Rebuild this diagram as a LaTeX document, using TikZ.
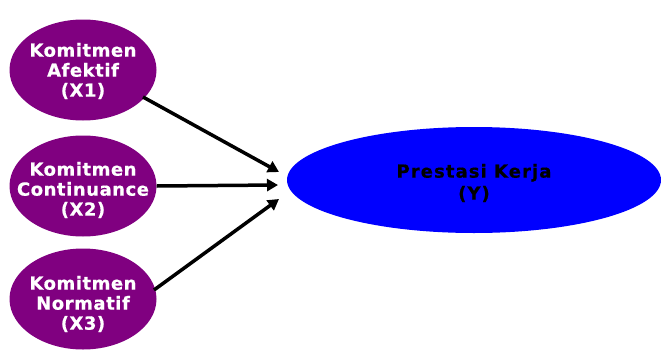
\documentclass[tikz,border=0pt]{standalone}
\usepackage{fontspec}
\setmainfont{DejaVu Sans}
\newfontfamily\xfont[LetterSpace=3,FakeBold=0.6]{DejaVu Sans Bold}
\newfontfamily\yfont[LetterSpace=6,FakeBold=0.6]{DejaVu Sans Bold}
\usetikzlibrary{shapes.geometric,arrows.meta}
\definecolor{kpurple}{HTML}{800080}
\definecolor{kblue}{HTML}{0000FF}
\begin{document}
\begin{tikzpicture}[x=1pt,y=-1pt,
  varx/.style={ellipse,fill=kpurple,minimum width=147pt,minimum height=101pt,inner sep=0pt},
  vary/.style={ellipse,fill=kblue,minimum width=374pt,minimum height=106pt,inner sep=0pt},
  xtext/.style={inner sep=0pt,text=white,font=\xfont\fontsize{18}{20}\selectfont,align=center},
  ytext/.style={inner sep=0pt,text=black,font=\yfont\fontsize{18}{22}\selectfont,align=center},
  conn/.style={line width=3.5pt,-{Triangle[length=11pt,width=12pt]}}]
\useasboundingbox (0,0) rectangle (661,351);
\node[varx] (x1) at (83,70) {};
\node[varx] (x2) at (83,186) {};
\node[varx] (x3) at (83,299) {};
\node[vary] (y) at (474,180) {};
\node[xtext] (x1t) at ([yshift=-1pt]x1.center) {Komitmen\\Afektif\\(X1)};
\node[xtext] (x2t) at ([yshift=-4pt]x2.center) {Komitmen\\Continuance\\(X2)};
\node[xtext] (x3t) at ([yshift=-5pt]x3.center) {Komitmen\\Normatif\\(X3)};
\node[ytext] (yt) at ([yshift=-3pt]y.center) {Prestasi Kerja\\(Y)};
\coordinate (t1) at (279,172);
\coordinate (t2) at (278,185);
\coordinate (t3) at (279,199);
\draw[conn] (143,97) -- (t1);
\draw[conn] (x2.east) -- (t2);
\draw[conn] (154,290) -- (t3);
\end{tikzpicture}
\end{document}
